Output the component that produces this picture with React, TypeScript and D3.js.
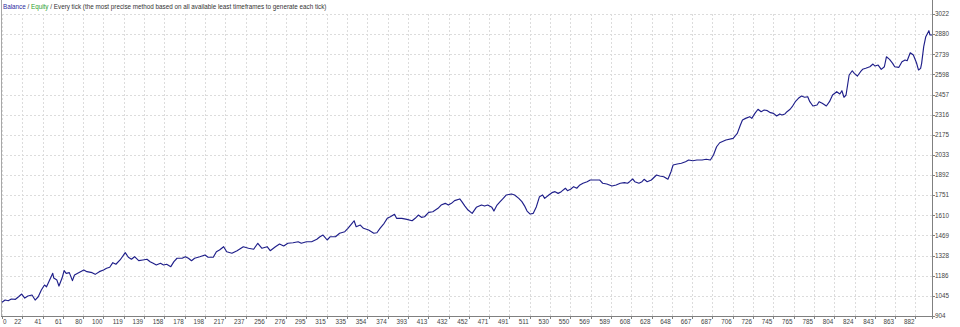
import React from "react";
import * as d3 from "d3";

const trades = [0,3,6,9,13,16,19,22,25,29,32,35,38,41,43,46,49,50,53,55,58,60,62,65,68,70,74,79,82,87,90,94,98,101,104,107,110,114,119,122,125,128,132,136,140,143,146,149,153,156,159,163,166,169,174,177,180,183,186,191,196,199,204,207,210,214,217,222,227,233,238,243,247,251,256,259,264,268,272,276,281,286,289,294,299,304,307,310,314,317,322,326,331,334,338,340,342,346,349,354,359,362,365,369,372,375,379,381,386,391,396,399,402,405,408,412,416,421,424,428,431,434,437,442,444,447,450,454,458,463,466,469,473,475,478,481,484,487,492,495,499,502,505,507,510,513,516,519,522,524,528,531,534,537,540,544,546,549,552,555,558,561,565,568,573,577,580,584,589,593,597,601,604,606,609,611,615,618,620,623,627,632,635,639,643,646,648,652,656,660,663,667,671,676,680,684,687,690,693,699,706,710,713,715,718,722,724,727,730,733,736,739,742,745,748,751,753,756,758,761,763,766,769,772,775,778,780,783,787,789,792,796,799,802,806,809,811,813,815,818,821,823,826,829,831,834,838,841,843,846,849,852,854,857,860,862,866,869,872,874,877,880,883,885,887,888,890,892,895,896,898];

const balance = [1000,1016,1011,1023,1021,1039,1058,1030,1044,1051,1016,1039,1086,1121,1109,1156,1203,1170,1156,1114,1170,1222,1203,1208,1152,1192,1208,1227,1215,1208,1196,1215,1227,1239,1246,1278,1267,1297,1348,1316,1302,1320,1292,1297,1302,1285,1274,1262,1274,1262,1267,1250,1285,1309,1309,1320,1309,1292,1309,1320,1332,1316,1316,1355,1367,1390,1355,1344,1362,1390,1379,1372,1414,1379,1390,1362,1390,1409,1395,1414,1418,1425,1414,1425,1425,1442,1460,1472,1437,1460,1460,1484,1495,1519,1554,1572,1530,1542,1519,1507,1484,1488,1519,1554,1589,1600,1617,1589,1589,1582,1572,1589,1612,1596,1600,1631,1635,1659,1682,1694,1682,1694,1713,1725,1706,1675,1647,1624,1666,1682,1675,1682,1666,1640,1682,1706,1729,1753,1760,1753,1729,1706,1671,1640,1619,1624,1671,1741,1753,1729,1753,1769,1776,1764,1776,1800,1783,1793,1811,1800,1823,1835,1846,1858,1858,1858,1835,1830,1816,1823,1835,1839,1835,1846,1865,1846,1835,1846,1863,1846,1858,1893,1886,1881,1863,1916,1963,1970,1975,1986,1998,1993,1998,1998,2003,1998,2033,2091,2119,2138,2150,2185,2244,2279,2290,2302,2290,2325,2354,2337,2349,2344,2330,2325,2307,2321,2314,2321,2337,2354,2372,2407,2431,2447,2438,2442,2407,2377,2384,2407,2396,2377,2407,2454,2477,2461,2484,2438,2454,2594,2624,2606,2587,2617,2634,2641,2652,2671,2657,2664,2634,2652,2722,2704,2676,2652,2648,2687,2699,2694,2750,2734,2680,2629,2641,2676,2793,2863,2905,2875,2875];

const xTickLabels = [0,22,41,61,80,100,119,139,158,178,198,217,237,256,276,295,315,335,354,374,393,413,432,452,471,491,511,530,550,569,589,608,628,648,667,687,706,726,745,765,785,804,824,843,863,882];
const yTickLabels = [904,1045,1186,1328,1469,1610,1751,1892,2033,2175,2316,2457,2598,2739,2880,3022];

const titleParts = [
  { text: "Balance", color: "#2b2b9e" },
  { text: " / ", color: "#333" },
  { text: "Equity", color: "#2ca02c" },
  { text: " / Every tick (the most precise method based on all available least timeframes to generate each tick)", color: "#333" },
];

const W = 960, H = 327;
const left = 2, right = 932, top = 14, bottom = 316;
const font = "'Liberation Sans', Arial, sans-serif";

export default function App() {
  const xMax = 898;
  const x = d3.scaleLinear().domain([0, xMax]).range([left, right]);
  const y = d3.scaleLinear().domain([yTickLabels[0], yTickLabels[yTickLabels.length - 1]]).range([bottom, top]);
  const step = xTickLabels[xTickLabels.length - 1] / (xTickLabels.length - 1);
  const n = Math.min(trades.length, balance.length);
  const pts = d3.range(n).map((i) => [trades[i], balance[i]] as [number, number]);
  const line = d3.line<[number, number]>().x((d) => x(d[0])).y((d) => y(d[1]));

  return (
    <svg width={W} height={H} style={{ position: "absolute", left: 0, top: 0, display: "block", background: "#fff" }}>
      <rect x={0} y={0} width={W} height={H} fill="#fff" />
      {yTickLabels.map((v) => (
        <line key={"hg" + v} x1={left} x2={right} y1={Math.round(y(v)) + 0.5} y2={Math.round(y(v)) + 0.5}
          stroke="#dcdcdc" strokeWidth={1} strokeDasharray="2,2" />
      ))}
      {xTickLabels.map((v, k) => (
        <line key={"vg" + k} x1={Math.round(x(k * step)) + 0.5} x2={Math.round(x(k * step)) + 0.5} y1={top} y2={bottom}
          stroke="#dcdcdc" strokeWidth={1} strokeDasharray="2,2" />
      ))}
      <line x1={left - 0.5} x2={left - 0.5} y1={0} y2={bottom} stroke="#a8a8a8" />
      <line x1={left - 1} x2={right + 1} y1={bottom + 0.5} y2={bottom + 0.5} stroke="#808080" />
      <line x1={right + 0.5} x2={right + 0.5} y1={0} y2={bottom + 3} stroke="#808080" />
      {yTickLabels.map((v) => (
        <line key={"yt" + v} x1={right} x2={right + 3} y1={Math.round(y(v)) + 0.5} y2={Math.round(y(v)) + 0.5} stroke="#808080" />
      ))}
      {xTickLabels.map((v, k) => (
        <line key={"xt" + k} x1={Math.round(x(k * step)) + 0.5} x2={Math.round(x(k * step)) + 0.5} y1={bottom} y2={bottom + 3} stroke="#808080" />
      ))}
      {yTickLabels.map((v) => (
        <text key={"yl" + v} x={right + 3} y={y(v)} dy="0.35em" fontSize={6.3} fontFamily={font} fill="#444">{v}</text>
      ))}
      {xTickLabels.map((v, k) => (
        <text key={"xl" + k} x={k === 0 ? left + 1 : x(k * step) - 1} y={322} dy="0.35em"
          textAnchor={k === 0 ? "start" : "end"} fontSize={6.3} fontFamily={font} fill="#444">{v}</text>
      ))}
      <text x={3} y={7} dy="0.35em" fontSize={6.3} fontFamily={font}>
        {titleParts.map((p, i) => (
          <tspan key={i} fill={p.color}>{p.text}</tspan>
        ))}
      </text>
      <path d={line(pts) || ""} fill="none" stroke="#1f1f8a" strokeWidth={1.15} strokeLinejoin="round" />
    </svg>
  );
}
